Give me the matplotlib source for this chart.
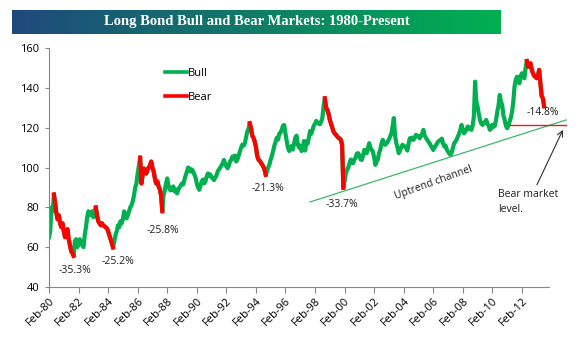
import numpy as np
import pandas as pd
from matplotlib import pyplot as plt
from matplotlib.lines import Line2D

# long bond price, monthly, Feb-1980 .. Aug-2013
values_1980s = [
    65, 68, 80, 78, 86.5, 82, 77, 74, 76, 72, 70,                      # 1980 (Feb-Dec)
    72, 68, 65, 67, 69, 64, 61, 58, 57, 55.6, 63, 64,                  # 1981
    60, 62, 64, 62, 61, 60, 66, 70, 75, 78, 76, 77,                    # 1982
    78, 75, 77, 80, 76, 73, 72, 71, 72, 71, 70.5, 70,                  # 1983
    69.5, 68, 66, 64, 62, 59.8, 63, 66, 68, 71, 70, 73,                # 1984
    72, 74, 78, 76, 74.5, 76, 78, 80, 81, 83, 86, 90,                  # 1985
    92, 97, 101, 105, 92, 96, 99.5, 98, 97, 99, 100, 101,              # 1986
    103, 100, 98, 94.5, 92, 93, 90.5, 89, 86, 78, 86, 88.5,            # 1987
    92, 94.5, 91, 89, 88.5, 90, 90.5, 88, 89, 87, 89, 90,              # 1988
    91, 92, 91.5, 94, 96, 98, 100, 99.6, 98, 99, 98, 96.5,             # 1989
]
values_1990s = [
    95, 92, 90, 88.8, 91, 93, 94, 92, 93, 95.4, 97, 96,                # 1990
    96.5, 95, 94.5, 93.7, 95, 96, 98, 99, 100, 101, 102, 103.8,        # 1991
    102, 100.5, 99.6, 101, 103, 104, 105.5, 104.5, 106, 103, 104, 106, # 1992
    108, 110, 111.5, 111, 112, 115, 118, 119.5, 122.3, 120, 116, 115,  # 1993
    113, 110.5, 106, 104, 103.5, 102.5, 101.5, 100.5, 99, 96.3, 98, 100,  # 1994
    101.5, 104, 106, 108.3, 111, 113, 115, 114, 117, 117.5, 119, 121,  # 1995
    121.3, 117, 113.3, 110, 108.3, 109, 110.8, 109, 112, 115, 116, 111.6,  # 1996
    110, 111, 108.3, 109, 113.3, 108.5, 113, 112, 115, 118.3, 117, 119,    # 1997
    121, 122, 123.4, 122.5, 122, 121.7, 123, 125, 131, 134.8, 130, 129,    # 1998
    127, 124, 122, 120, 118.1, 117, 116.5, 115.6, 115, 114.5, 113.9, 111.4,  # 1999
]
values_2000s = [
    89.8, 93, 97, 98.8, 100, 102, 104, 102.5, 102.2, 104, 105, 107,    # 2000
    107.2, 106, 104, 103.8, 106, 108.8, 108, 107.2, 110, 112.2, 110, 108.8,  # 2001
    108, 105, 101.3, 103, 104, 107.2, 109, 112, 113.9, 112.5, 111.4, 112,    # 2002
    113, 114, 115.6, 117, 120.6, 124.8, 116, 112.2, 110, 107.2, 108.5, 110,  # 2003
    111.4, 111, 110.5, 109.7, 108.5, 112, 114.7, 114, 115, 113.9, 115, 116.4,  # 2004
    116, 115.5, 114.7, 116, 117, 118.9, 116, 115, 113.9, 113, 112.2, 111,    # 2005
    110, 108.8, 110, 111, 112, 113, 113.5, 113.9, 114.5, 112, 110.5, 111,    # 2006
    109, 108, 107, 106.3, 107.5, 110, 112.2, 113, 114, 115.6, 117, 119,      # 2007
    121.4, 119, 117.2, 118, 119, 120.6, 119.5, 120, 118.9, 121, 125.6, 143.1,  # 2008
    133, 130.6, 127, 123.9, 122, 121.4, 122, 123, 123.9, 122, 121, 118.9,    # 2009
]
values_2010s = [
    119.5, 121.4, 120.5, 121, 123.9, 128, 131, 136.4, 133, 131.4, 126, 123.9,  # 2010
    121, 119.7, 121, 123, 125, 128, 133, 140.6, 144, 145.6, 143, 142.3,      # 2011
    146, 147.3, 145.5, 144.8, 150, 153.5, 150.6, 151.5, 152.3, 149, 147.3, 146,  # 2012
    145.5, 144.8, 146, 149, 142.3, 136, 134.8, 130.8,                        # 2013 (Jan-Aug)
]

# bear markets: peak month, trough month, label
bear_start = ["1980-06", "1983-04", "1986-04", "1993-09", "1998-10", "2012-06"]
bear_end = ["1981-10", "1984-06", "1987-10", "1994-10", "2000-01", "2013-08"]
bear_labels = ["-35.3%", "-25.2%", "-25.8%", "-21.3%", "-33.7%", "-14.8%"]

# uptrend channel and bear market level lines
trend_dates = ["1997-10", "2015-02"]
trend_values = [82.7, 123.9]
bear_level_dates = ["2011-04", "2015-02"]
bear_level = 121.2

values = np.array(values_1980s + values_1990s + values_2000s + values_2010s, dtype=float)
dates = pd.date_range("1980-02-01", periods=len(values), freq="MS")
x = np.arange(len(values))


def month_idx(s):
    d = pd.Timestamp(s + "-01")
    return (d.year - 1980) * 12 + d.month - 2


bear = np.full(len(values), np.nan)
for s, e in zip(bear_start, bear_end):
    bear[month_idx(s):month_idx(e) + 1] = values[month_idx(s):month_idx(e) + 1]

plt.rcParams['font.family'] = ['Open Sans', 'DejaVu Sans']
fig = plt.figure(figsize=(5.88, 3.49), dpi=100)

# title banner (blue -> green gradient)
bax = fig.add_axes([12 / 588, 1 - 34 / 349, 489 / 588, 24 / 349])
c1 = np.array([31, 73, 125]) / 255
c2 = np.array([0, 176, 80]) / 255
t = np.linspace(0, 1, 256)[None, :, None]
bax.imshow(c1 + (c2 - c1) * t, aspect='auto')
bax.axis('off')
fig.text(257 / 588, 1 - 22 / 349, "Long Bond Bull and Bear Markets: 1980-Present",
         ha='center', va='center', color='white', fontsize=10.5, fontweight='bold',
         family='Liberation Serif')

ax = fig.add_axes([49 / 588, 1 - 287 / 349, 500 / 588, 239 / 349])
ax.plot(x, values, color='#00B050', lw=3.0, solid_joinstyle='round')
ax.plot(x, bear, color='#FF0000', lw=3.0, solid_joinstyle='round')

# trend + bear level lines
tx = [month_idx(d) for d in trend_dates]
ax.plot(tx, trend_values, color='#3DB86A', lw=0.9, clip_on=False)
bx = [month_idx(d) for d in bear_level_dates]
ax.plot(bx, [bear_level, bear_level], color='#E02020', lw=1.0, clip_on=False)

# percentage labels
label_pos = [(21, 48.5), (56, 52.6), (92.6, 68.6), (177.8, 89.7), (237.9, 81.2), (401, 127.4)]
for (lx, ly), txt in zip(label_pos, bear_labels):
    ax.text(lx, ly, txt, ha='center', va='center', fontsize=7.5, color='#202020')

ax.text(312, 92.5, "Uptrend channel", rotation=20, ha='center', va='center',
        fontsize=7.5, color='#202020', rotation_mode='anchor')
ax.text(364.5, 89, "Bear market\nlevel.", ha='left', va='top', fontsize=7.5,
        color='#202020', linespacing=1.4)
ax.annotate("", xy=(417.3, 118.9), xytext=(396.2, 91.3), annotation_clip=False,
            arrowprops=dict(arrowstyle='->', color='#303030', lw=0.8, shrinkA=0, shrinkB=0))

# legend
handles = [Line2D([], [], color='#00B050', lw=2.6), Line2D([], [], color='#FF0000', lw=2.6)]
ax.legend(handles, ["Bull", "Bear"], loc='upper left', bbox_to_anchor=(0.232, 0.915),
          frameon=False, fontsize=8, handlelength=2.0, handletextpad=0.1,
          labelspacing=1.15, borderpad=0, borderaxespad=0)

ax.set_xlim(0, 406)
ax.set_ylim(40, 160)
ax.set_yticks(np.arange(40, 161, 20))
ax.set_xticks(x[::24])
ax.set_xticklabels(dates[::24].strftime("%b-%y"), rotation=45, ha='right',
                   rotation_mode='anchor')
ax.tick_params(axis='x', length=4, width=0.8, color='#868686', labelsize=8, pad=2)
ax.tick_params(axis='y', length=3, width=0.8, color='#868686', labelsize=8, pad=4)
for s in ['top', 'right']:
    ax.spines[s].set_visible(False)
for s in ['left', 'bottom']:
    ax.spines[s].set_color('#868686')
    ax.spines[s].set_linewidth(0.8)

plt.savefig("out.png", dpi=100)
plt.close()
